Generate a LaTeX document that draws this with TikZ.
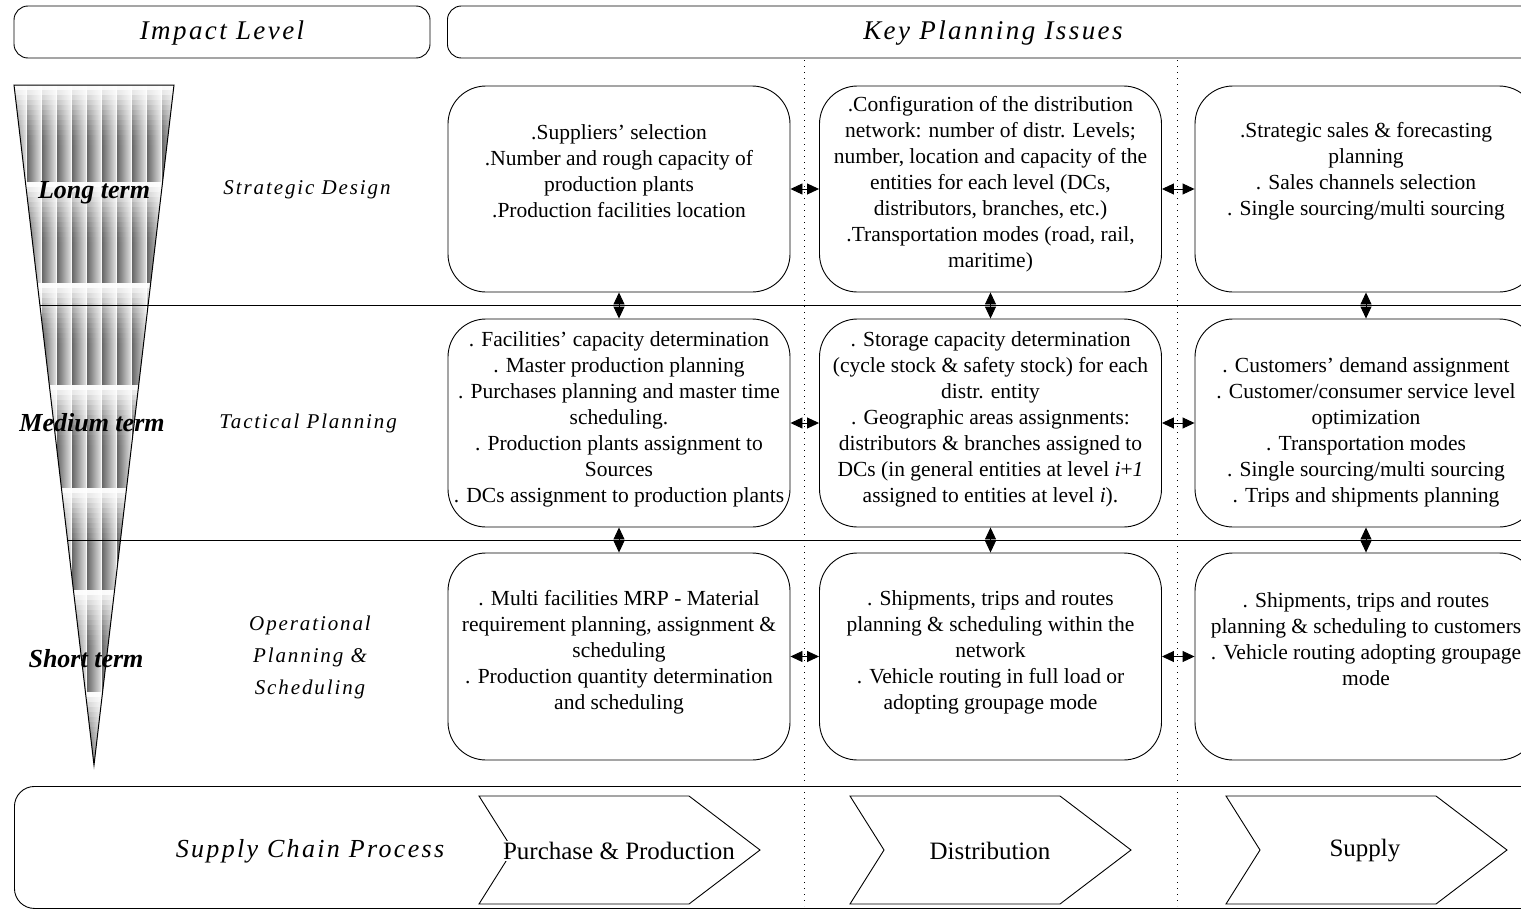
\documentclass[tikz,border=0pt]{standalone}
\usepackage{fontspec}
\setmainfont{Liberation Serif}
\newfontfamily\widefont[LetterSpace=9]{Liberation Serif}
\usetikzlibrary{arrows.meta}

\tikzset{
  issue/.style={draw, line width=0.9pt, rounded corners=38pt, fill=white,
                minimum width=342pt, inner sep=0pt},
  issuetext/.style={align=center, inner sep=0pt,
                    font=\fontsize{21.5}{26}\selectfont},
  header/.style={draw, line width=0.9pt, rounded corners=14pt, fill=white},
  titletext/.style={font=\widefont\itshape\fontsize{27}{32}\selectfont},
  rowtext/.style={align=center, font=\widefont\itshape\fontsize{21}{32}\selectfont},
  termtext/.style={font=\bfseries\itshape\fontsize{26}{30}\selectfont},
  chevtext/.style={fill=white, inner sep=1pt, font=\fontsize{25}{28}\selectfont},
  link/.style={line width=0.9pt, {Triangle[length=12pt,width=11pt]}-{Triangle[length=12pt,width=11pt]}},
  guide/.style={line width=0.8pt, dash pattern=on 1pt off 5pt},
  chevron/.style={draw, line width=0.9pt, line join=miter},
}

\begin{document}
\begin{tikzpicture}[x=1pt, y=-1pt]
\useasboundingbox (0,0) rectangle (1521,910);
\clip (0,0) rectangle (1521,910);

% column guides
\draw[guide] (804,60) -- (804,906);
\draw[guide] (1177,60) -- (1177,906);

% headers
\node[header, minimum width=416pt, minimum height=52pt] (hImpact) at (222,32) {};
\node[titletext] (tImpact) at (222,33) {Impact Level};
\node[header, minimum width=1100pt, minimum height=52pt, anchor=west] (hKey) at (447,32) {};
\node[titletext] (tKey) at (993,33) {Key Planning Issues};

% time-horizon wedge
\begin{scope}
  \clip (14,85) -- (174,85) -- (94,765) -- cycle;
  \foreach \yb in {85,182,283,385,488,590,692}{
    \foreach \xs in {12,27,...,162}{
      \shade[left color=black!60, right color=black!8] (\xs,\yb) rectangle ++(15,104);
      \fill[white, opacity=0.7] (\xs+14,\yb) rectangle ++(1.2,104);
    }
    \foreach \k in {0,...,11}{
      \pgfmathsetmacro{\op}{0.97*(1-\k/12)^1.6}
      \fill[white, opacity=\op] (0,\yb+\k*5) rectangle (200,\yb+\k*5+5);
    }
  }
\end{scope}
\draw[line width=1pt, line join=miter] (14,85) -- (174,85) -- (94,765) -- cycle;

% level separators
\draw[line width=0.8pt] (40,305) -- (1521,305);
\draw[line width=0.8pt] (67.5,540) -- (1521,540);

\node[termtext] (lLong) at (94,193) {Long term};
\node[termtext] (lMedium) at (92,423) {Medium term};
\node[termtext] (lShort) at (86,659) {Short term};

\node[rowtext] (rStrategic) at (307,190) {Strategic Design};
\node[rowtext] (rTactical) at (308,423) {Tactical Planning};
\node[rowtext] (rOperational) at (310,657) {Operational\\Planning \&\\Scheduling};

% issue boxes: row 1
\node[issue, minimum height=206pt] (b11) at (619,189) {};
\node[issue, minimum height=206pt] (b12) at (990.5,189) {};
\node[issue, minimum height=206pt] (b13) at (1366,189) {};
% row 2
\node[issue, minimum height=208pt] (b21) at (619,423) {};
\node[issue, minimum height=208pt] (b22) at (990.5,423) {};
\node[issue, minimum height=208pt] (b23) at (1366,423) {};
% row 3
\node[issue, minimum height=207pt] (b31) at (619,656.5) {};
\node[issue, minimum height=207pt] (b32) at (990.5,656.5) {};
\node[issue, minimum height=207pt] (b33) at (1366,656.5) {};

\node[issuetext] (t11) at (619,171) {.Suppliers’ selection\\.Number and rough capacity of\\production plants\\.Production facilities location};
\node[issuetext] (t12) at (990.5,184) {.Configuration of the distribution\\network: number of distr. Levels;\\number, location and capacity of the\\entities for each level (DCs,\\distributors, branches, etc.)\\.Transportation modes (road, rail,\\maritime)};
\node[issuetext] (t13) at (1366,171) {.Strategic sales \& forecasting\\planning\\. Sales channels selection\\. Single sourcing/multi sourcing};

\node[issuetext] (t21) at (619,419) {. Facilities’ capacity determination\\. Master production planning\\. Purchases planning and master time\\scheduling.\\. Production plants assignment to\\Sources\\. DCs assignment to production plants};
\node[issuetext] (t22) at (990.5,419) {. Storage capacity determination\\(cycle stock \& safety stock) for each\\distr. entity\\. Geographic areas assignments:\\distributors \& branches assigned to\\DCs (in general entities at level \textit{i}+\textit{1}\\assigned to entities at level \textit{i}).};
\node[issuetext] (t23) at (1366,432) {. Customers’ demand assignment\\. Customer/consumer service level\\optimization\\. Transportation modes\\. Single sourcing/multi sourcing\\. Trips and shipments planning};

\node[issuetext] (t31) at (619,652) {. Multi facilities MRP - Material\\requirement planning, assignment \&\\scheduling\\. Production quantity determination\\and scheduling};
\node[issuetext] (t32) at (990.5,652) {. Shipments, trips and routes\\planning \& scheduling within the\\network\\. Vehicle routing in full load or\\adopting groupage mode};
\node[issuetext] (t33) at (1366,639) {. Shipments, trips and routes\\planning \& scheduling to customers\\. Vehicle routing adopting groupage\\mode};

% links between issues
\foreach \r in {1,2,3}{
  \draw[link] (b\r1) -- (b\r2);
  \draw[link] (b\r2) -- (b\r3);
}
\foreach \c in {1,2,3}{
  \draw[link] (b1\c) -- (b2\c);
  \draw[link] (b2\c) -- (b3\c);
}

% supply chain process band
\node[header, rounded corners=20pt, minimum width=1530pt, minimum height=122pt, anchor=north west, fill=none] (hProcess) at (14,786) {};
\node[titletext, font=\widefont\itshape\fontsize{26}{30}\selectfont] (tProcess) at (310,851) {Supply Chain Process};

\draw[chevron] (479,796) -- (689,796) -- (760,850) -- (689,904) -- (479,904) -- (513,850) -- cycle;
\draw[chevron] (850,796) -- (1060,796) -- (1131,850) -- (1060,904) -- (850,904) -- (884,850) -- cycle;
\draw[chevron] (1226,796) -- (1436,796) -- (1507,850) -- (1436,904) -- (1226,904) -- (1260,850) -- cycle;
\node[chevtext] (cPurchase) at (619,851) {Purchase \& Production};
\node[chevtext] (cDistribution) at (990,851) {Distribution};
\node[chevtext] (cSupply) at (1365,851) {Supply};
\end{tikzpicture}
\end{document}
